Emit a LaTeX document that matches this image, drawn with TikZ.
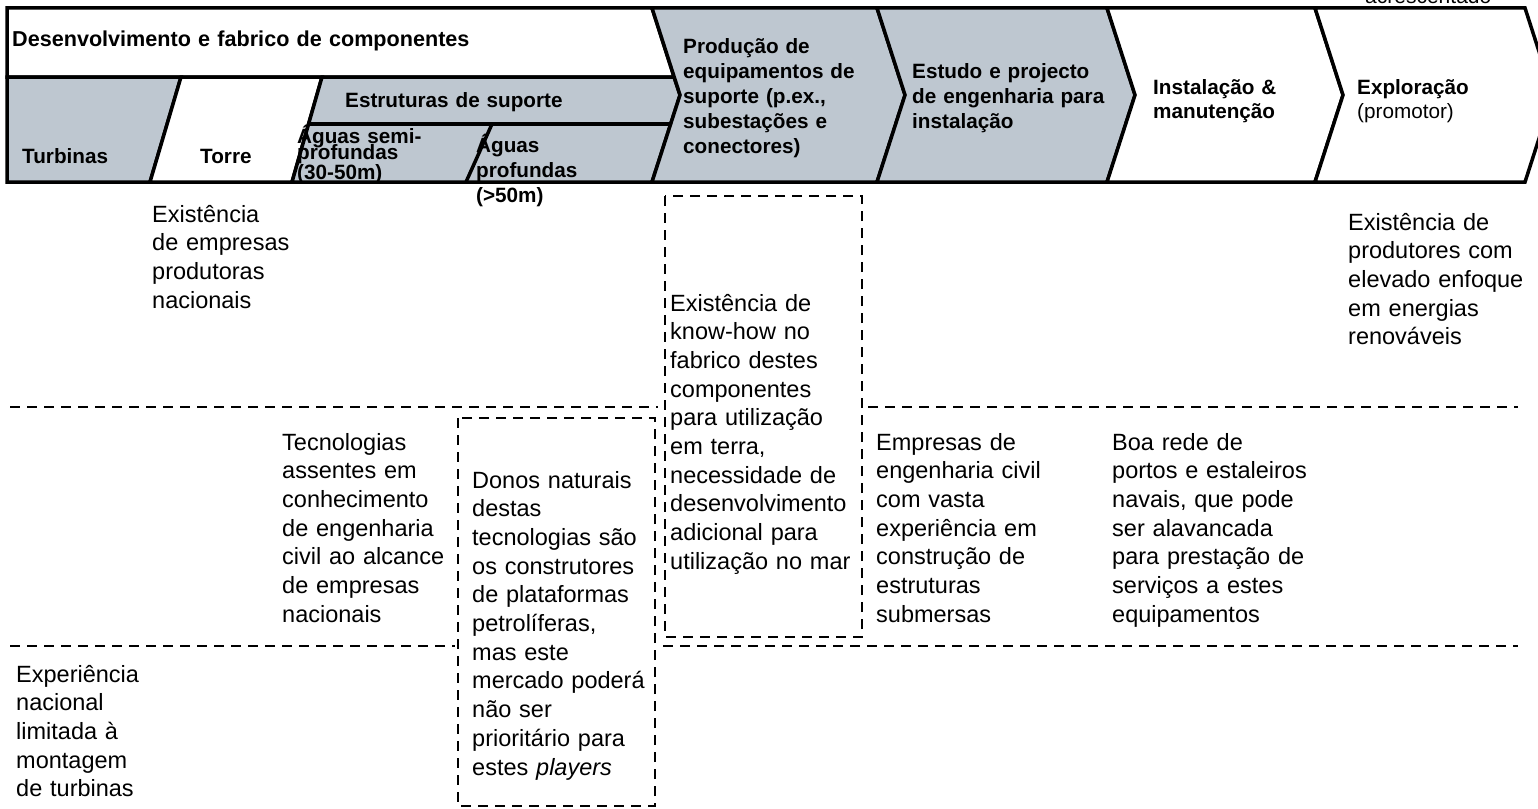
\documentclass[tikz,border=0pt]{standalone}
\usepackage{fontspec}
\setmainfont{Liberation Sans}
\definecolor{bandgray}{RGB}{190,199,208}
\newcommand{\closelines}{\lineskiplimit=-50pt\relax\lineskip=0pt\relax}
\begin{document}
\begin{tikzpicture}[
  x=1pt, y=-1pt,
  band/.style={draw=black, line width=3.5pt, line join=miter},
  sep/.style={draw=black, line width=3.5pt},
  dashline/.style={draw=black, line width=2.6pt, dash pattern=on 10pt off 7pt},
  hdr/.style={anchor=base west, inner sep=0pt, align=left, text width=700pt,
    font=\bfseries\fontsize{20.7}{25}\selectfont},
  tight/.style={anchor=base west, inner sep=0pt, align=left, text width=700pt,
    font=\bfseries\fontsize{20.7}{16}\selectfont},
  body/.style={anchor=base west, inner sep=0pt, align=left, text width=700pt,
    font=\fontsize{23.5}{28.7}\selectfont},
]
\useasboundingbox (0,0) rectangle (1538,808);

% value chain band: left block
\filldraw[band, fill=white] (7,8) -- (652,8) -- (674,77) -- (7,77) -- cycle;
\filldraw[band, fill=bandgray] (7,77) -- (181,77) -- (150,182) -- (7,182) -- cycle;
\filldraw[band, fill=white] (181,77) -- (322,77) -- (292,182) -- (150,182) -- cycle;
\filldraw[band, fill=bandgray] (322,77) -- (674,77) -- (680,95) -- (652,182) -- (292,182) -- cycle;
\draw[sep] (308.6,124) -- (671,124);
\draw[sep] (492,124) -- (466,182);

% chevrons
\filldraw[band, fill=bandgray] (652,8) -- (877,8) -- (905,95) -- (877,182) -- (652,182) -- (680,95) -- cycle;
\filldraw[band, fill=bandgray] (877,8) -- (1107,8) -- (1135,95) -- (1107,182) -- (877,182) -- (905,95) -- cycle;
\filldraw[band, fill=white] (1107,8) -- (1315,8) -- (1343,95) -- (1315,182) -- (1107,182) -- (1135,95) -- cycle;
\filldraw[band, fill=white] (1315,8) -- (1525,8) -- (1553,95) -- (1525,182) -- (1315,182) -- (1343,95) -- cycle;

% band labels
\node[anchor=base west, inner sep=0pt, font=\fontsize{21}{25}\selectfont] (acr) at (1365,4) {acrescentado};
\node[hdr, font=\bfseries\fontsize{21.6}{25}\selectfont] (dev) at (12,47) {Desenvolvimento e fabrico de componentes};
\node[hdr] (turb) at (22,163) {Turbinas};
\node[hdr] (torre) at (200,163) {Torre};
\node[hdr] (estr) at (345,107) {Estruturas de suporte};
\node[tight] (semi) at (297,143) {\closelines Águas semi-\\profundas\\(30-50m)};
\node[hdr] (prof) at (476,152) {Águas\\profundas\\(>50m)};
\node[hdr] (prod) at (683,53) {Produção de\\equipamentos de\\suporte (p.ex.,\\subestações e\\conectores)};
\node[hdr] (estudo) at (912,78) {Estudo e projecto\\de engenharia para\\instalação};
\node[hdr, font=\bfseries\fontsize{20.7}{24}\selectfont] (inst) at (1153,94) {Instalação \&\\manutenção};
\node[hdr, font=\fontsize{20.7}{24}\selectfont] (expl) at (1357,94) {\textbf{Exploração}\\(promotor)};

% dashed separators and frames
\draw[dashline] (10,407) -- (658,407);
\draw[dashline] (868,407) -- (1518,407);
\draw[dashline] (10,646) -- (455,646);
\draw[dashline] (663,646) -- (1518,646);
\draw[dashline] (665,196) rectangle (862,637);
\draw[dashline] (458,418) rectangle (655,806);

% assessment texts
\node[body] (e1) at (152,222) {Existência\\de empresas\\produtoras\\nacionais};
\node[body] (e2) at (1348,230) {Existência de\\produtores com\\elevado enfoque\\em energias\\renováveis};
\node[body] (kh) at (670,311) {Existência de\\know-how no\\fabrico destes\\componentes\\para utilização\\em terra,\\necessidade de\\desenvolvimento\\adicional para\\utilização no mar};
\node[body] (tec) at (282,450) {Tecnologias\\assentes em\\conhecimento\\de engenharia\\civil ao alcance\\de empresas\\nacionais};
\node[body] (donos) at (472,488) {Donos naturais\\destas\\tecnologias são\\os construtores\\de plataformas\\petrolíferas,\\mas este\\mercado poderá\\não ser\\prioritário para\\estes \textit{players}};
\node[body] (emp) at (876,450) {Empresas de\\engenharia civil\\com vasta\\experiência em\\construção de\\estruturas\\submersas};
\node[body] (boa) at (1112,450) {Boa rede de\\portos e estaleiros\\navais, que pode\\ser alavancada\\para prestação de\\serviços a estes\\equipamentos};
\node[body] (exp) at (16,682) {Experiência\\nacional\\limitada à\\montagem\\de turbinas};
\end{tikzpicture}
\end{document}
